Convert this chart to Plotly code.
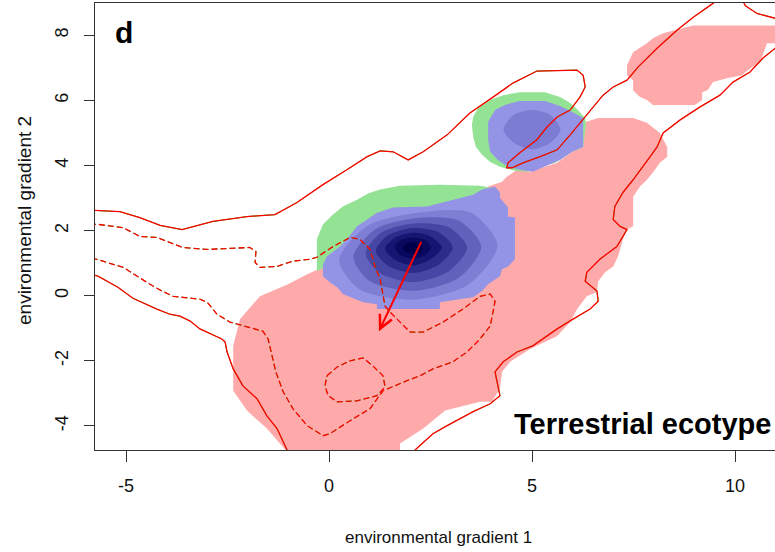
import plotly.graph_objects as go

# ---------------- axes ----------------
x_range = [-5.764, 10.985]
y_range = [-4.74, 8.99]
x_ticks = [-5, 0, 5, 10]
y_ticks = [-4, -2, 0, 2, 4, 6, 8]
x_title = "environmental gradient 1"
y_title = "environmental gradient 2"
panel_label = "d"
ecotype_label = "Terrestrial ecotype"

# ---------------- filled niche regions ----------------
pink_main_x = [-0.15, -0.54, -1.01, -1.70, -2.02, -2.19, -2.36, -2.36, -2.02, -1.53, -0.96,
               1.75, 1.75, 2.32, 2.86, 3.72, 4.01, 4.21, 4.26, 4.46, 4.95, 5.62, 5.94, 6.11,
               6.35, 6.60, 6.63, 6.80, 7.00, 7.12, 7.24, 7.34, 7.49, 7.49, 7.66, 7.83, 7.98,
               8.15, 8.33, 8.33, 8.15, 7.98, 7.83, 7.49, 6.63, 6.26, 6.26, 5.99, 5.62, 4.95,
               4.63, 4.38, 4.26, 3.92, 3.47, 1.75, 0.02]
pink_main_y = [0.87, 0.66, 0.35, -0.02, -0.47, -0.72, -1.54, -2.92, -3.53, -4.08, -4.90,
               -4.90, -4.54, -4.08, -3.53, -3.26, -3.26, -2.86, -2.34, -2.03, -1.64, -1.24,
               -0.81, -0.41, -0.02, 0.11, 0.44, 0.72, 0.90, 1.21, 1.73, 2.03, 2.13, 3.04,
               3.35, 3.56, 3.78, 4.08, 4.27, 4.57, 5.00, 5.18, 5.31, 5.46, 5.46, 5.31, 4.57,
               4.42, 4.08, 3.81, 3.87, 3.65, 3.50, 3.35, 2.80, 1.73, 1.05]

pink_top_x = [8.23, 8.97, 11.20, 11.20, 10.79, 10.62, 10.32, 10.17, 9.80, 9.46, 9.33, 9.19,
              9.19, 9.01, 7.98, 7.83, 7.66, 7.49, 7.49, 7.34, 7.34, 7.49, 7.83, 7.98]
pink_top_y = [8.06, 8.30, 8.30, 7.75, 7.75, 7.18, 6.93, 6.77, 6.68, 6.56, 6.32, 6.25,
              6.01, 5.86, 5.86, 6.01, 6.10, 6.31, 6.62, 6.77, 7.08, 7.48, 7.75, 7.91]

green_big_x = [-0.30, -0.30, -0.15, 0.10, 0.34, 0.69, 0.96, 1.26, 1.75, 2.73, 3.72, 3.97,
               4.14, 3.72, 2.24, 0.52, 0.02]
green_big_y = [0.75, 1.73, 2.19, 2.49, 2.74, 2.95, 3.14, 3.26, 3.38, 3.41, 3.38, 3.32,
               3.17, 2.49, 2.03, 1.42, 0.96]

green_small_x = [3.55, 3.67, 3.97, 4.29, 4.70, 5.32, 5.69, 5.94, 6.13, 6.31, 6.33, 6.26,
                 5.99, 5.81, 5.57, 5.20, 4.90, 4.58, 4.21, 3.97, 3.77, 3.62, 3.55, 3.52]
green_small_y = [5.49, 5.76, 6.01, 6.16, 6.25, 6.25, 6.10, 5.92, 5.70, 5.46, 5.24, 4.57,
                 4.42, 4.27, 4.08, 3.96, 3.81, 3.84, 3.96, 4.11, 4.33, 4.57, 4.88, 5.24]

blue_big_x = [-0.15, -0.15, 0.02, 0.20, 0.34, 0.69, 0.84, 1.18, 1.18, 2.73, 2.73, 3.55,
              3.77, 3.92, 4.09, 4.21, 4.26, 4.41, 4.58, 4.58, 4.41, 4.41, 4.21, 4.21, 4.09,
              3.77, 3.55, 2.91, 2.41, 1.58, 1.18, 0.94, 0.69, 0.44, 0.27, -0.05]
blue_big_y = [0.96, 0.60, 0.41, 0.26, 0.05, -0.11, -0.20, -0.26, -0.41, -0.41, -0.20, -0.05,
              0.14, 0.35, 0.50, 0.60, 0.81, 0.90, 1.12, 2.40, 2.43, 2.71, 3.01, 3.17, 3.35,
              3.26, 3.10, 2.89, 2.74, 2.71, 2.55, 2.34, 2.13, 1.73, 1.51, 1.21]

blue_small_x = [3.92, 4.09, 4.33, 4.70, 5.32, 5.69, 5.99, 6.26, 6.26, 5.99, 5.69, 5.39,
                5.02, 4.70, 4.41, 4.16, 3.97, 3.92]
blue_small_y = [5.34, 5.70, 5.86, 5.98, 5.98, 5.83, 5.64, 5.46, 4.57, 4.42, 4.17, 4.02,
                3.81, 3.87, 3.96, 4.17, 4.42, 4.79]
blue_small_core_x = [4.30, 4.55, 5.00, 5.45, 5.70, 5.45, 5.00, 4.55]
blue_small_core_y = [5.10, 5.55, 5.70, 5.55, 5.10, 4.70, 4.50, 4.70]

# density bands of the stable niche (outer -> inner)
dens1_x = [4.15, 3.50, 2.20, 0.95, 0.25, 0.75, 2.10, 3.45]
dens1_y = [1.55, 2.55, 2.55, 2.15, 1.10, 0.20, -0.12, 0.35]
dens2_x = [3.75, 3.20, 2.15, 1.15, 0.60, 1.00, 2.10, 3.20]
dens2_y = [1.50, 2.30, 2.38, 2.05, 1.20, 0.45, 0.15, 0.55]
dens3_x = [3.40, 2.95, 2.10, 1.30, 0.90, 1.25, 2.10, 2.95]
dens3_y = [1.48, 2.10, 2.22, 1.95, 1.30, 0.70, 0.42, 0.75]
dens4_x = [3.05, 2.70, 2.08, 1.45, 1.15, 1.45, 2.08, 2.70]
dens4_y = [1.48, 1.95, 2.08, 1.85, 1.38, 0.92, 0.70, 0.95]
dens5_x = [2.78, 2.50, 2.07, 1.62, 1.38, 1.62, 2.07, 2.50]
dens5_y = [1.48, 1.82, 1.93, 1.78, 1.45, 1.10, 0.93, 1.12]
dens6_x = [2.52, 2.37, 2.07, 1.76, 1.62, 1.76, 2.07, 2.37]
dens6_y = [1.48, 1.70, 1.78, 1.70, 1.48, 1.24, 1.14, 1.25]
dens7_x = [2.32, 2.24, 2.07, 1.90, 1.82, 1.90, 2.07, 2.24]
dens7_y = [1.48, 1.60, 1.64, 1.60, 1.48, 1.35, 1.30, 1.35]

# ---------------- environment contour lines ----------------
solid_a_x = [-5.80, -5.15, -4.66, -4.16, -3.62, -2.86, -2.02, -1.33, -0.79, -0.15, 0.44, 0.94,
             1.26, 1.58, 1.95, 2.32, 2.91, 3.47, 4.04, 4.53, 5.12, 6.11, 6.26, 6.31, 6.18,
             5.94, 5.62, 5.37, 5.12, 4.70, 4.41, 4.38, 4.51, 4.78, 5.20, 5.62, 5.94, 6.18,
             6.50, 6.75, 7.00, 7.34, 7.61, 8.08, 8.57, 8.97, 9.38, 9.63]
solid_a_y = [2.62, 2.58, 2.40, 2.16, 2.03, 2.28, 2.43, 2.49, 2.86, 3.41, 3.87, 4.27,
             4.45, 4.42, 4.17, 4.42, 4.94, 5.61, 6.10, 6.53, 6.90, 6.93, 6.77, 6.41, 6.10,
             5.70, 5.49, 5.18, 4.79, 4.39, 4.08, 3.93, 3.93, 4.08, 4.27, 4.48, 4.94, 5.31,
             5.80, 6.16, 6.41, 6.62, 7.02, 7.60, 8.15, 8.55, 8.91, 9.13]

solid_top_x = [10.17, 10.25, 10.54, 10.99, 11.35]
solid_top_y = [9.13, 8.91, 8.67, 8.52, 8.49]

solid_right_x = [11.35, 10.99, 10.69, 10.37, 9.95, 9.63, 9.14, 8.65, 8.23, 8.08, 7.91, 7.73,
                 7.49, 7.24, 7.04, 7.00, 7.17, 7.34, 7.09, 6.67, 6.35, 6.31, 6.60, 6.63, 6.43,
                 6.01, 5.62, 5.02, 4.63, 4.29, 4.09, 4.14, 4.21, 3.97, 3.55, 2.91, 2.56, 2.24,
                 2.00]
solid_right_y = [7.72, 7.60, 7.30, 6.87, 6.56, 6.16, 5.80, 5.40, 5.00, 4.57, 4.27, 3.96,
                 3.56, 3.17, 2.74, 2.34, 2.13, 2.03, 1.51, 1.12, 0.72, 0.44, 0.14, -0.17, -0.41,
                 -0.72, -1.02, -1.54, -1.73, -2.03, -2.34, -2.65, -3.07, -3.32, -3.56, -3.99,
                 -4.24, -4.60, -4.88]

solid_left_x = [-5.89, -5.69, -5.20, -4.83, -4.24, -3.92, -3.67, -3.42, -3.18, -2.64, -2.56,
                -2.51, -2.36, -2.12, -1.77, -1.53, -1.28, -1.08, -0.96]
solid_left_y = [0.66, 0.60, 0.26, -0.08, -0.41, -0.57, -0.63, -0.78, -1.02, -1.33, -1.42,
                -1.73, -2.25, -2.77, -3.17, -3.69, -4.08, -4.60, -4.94]

dashed_main_x = [-5.89, -5.69, -5.07, -4.66, -4.24, -3.60, -3.00, -1.95, -1.80, -1.82, -1.70,
                 -1.28, -0.89, -0.47, -0.30, 0.10, 0.52, 0.76, 1.01, 1.13, 1.26, 1.33, 1.38,
                 1.50, 1.75, 2.00, 2.32, 2.81, 3.30, 3.72, 3.97, 4.09, 4.04, 3.97, 3.72, 3.40,
                 3.05, 2.56, 2.24, 1.92, 1.33, 1.01, 0.52, 0.02, -0.15, -0.54, -0.89, -1.13,
                 -1.31, -1.40, -1.50, -1.63, -2.02, -2.44, -2.76, -3.00, -3.18, -3.84, -4.11,
                 -4.41, -5.07, -5.69, -5.89]
dashed_main_y = [2.19, 2.19, 2.09, 1.82, 1.79, 1.48, 1.42, 1.48, 1.36, 1.02, 0.87,
                 0.90, 1.06, 1.12, 1.18, 1.51, 1.79, 1.73, 1.42, 0.90, 0.50, -0.02, -0.32,
                 -0.50, -0.81, -1.12, -1.12, -0.81, -0.41, -0.02, 0.05, -0.17, -0.50, -0.93,
                 -1.33, -1.73, -2.03, -2.25, -2.46, -2.61, -2.92, -3.47, -3.84, -4.24, -4.30,
                 -3.99, -3.47, -2.95, -2.34, -1.85, -1.33, -1.09, -0.96, -0.81, -0.57, -0.20,
                 -0.11, -0.02, 0.14, 0.35, 0.87, 1.12, 1.18]

dashed_loop_x = [-0.05, 0.20, 0.52, 0.84, 1.08, 1.33, 1.38, 1.18, 0.69, 0.20, -0.02, -0.10, -0.05]
dashed_loop_y = [-2.46, -2.19, -2.00, -1.91, -2.16, -2.46, -2.80, -3.07, -3.23, -3.26, -3.07,
                 -2.77, -2.46]

# niche centroid shift arrow
arrow_start = [2.29, 1.70]
arrow_end = [1.23, -1.09]

# ---------------- colours ----------------
PINK = "#ffaaaa"
GREEN = "#94e294"
BLUE_OUT = "#9494e6"
BLUE_SMALL_CORE = "#7c7cd2"
dens_cols = ["#7e7ed4", "#6262bc", "#4646a4", "#2c2c8a", "#161672", "#08085e", "#00004a"]
RED = "#ff0000"
GRN_LINE = "#00cc00"
AXIS = "#333333"

fig = go.Figure()


def poly(xs, ys, color, smooth=False):
    fig.add_trace(go.Scatter(
        x=xs + xs[:1], y=ys + ys[:1], mode="lines", fill="toself", fillcolor=color,
        line=dict(width=0, color=color, shape="spline" if smooth else "linear",
                  smoothing=0.8),
        hoverinfo="skip", showlegend=False))


poly(pink_main_x, pink_main_y, PINK)
poly(pink_top_x, pink_top_y, PINK)
poly(green_big_x, green_big_y, GREEN)
poly(green_small_x, green_small_y, GREEN)
poly(blue_big_x, blue_big_y, BLUE_OUT)
poly(blue_small_x, blue_small_y, BLUE_OUT)
poly(blue_small_core_x, blue_small_core_y, BLUE_SMALL_CORE, smooth=True)
for (dx, dy), c in zip([(dens1_x, dens1_y), (dens2_x, dens2_y), (dens3_x, dens3_y),
                        (dens4_x, dens4_y), (dens5_x, dens5_y), (dens6_x, dens6_y),
                        (dens7_x, dens7_y)], dens_cols):
    poly(dx, dy, c, smooth=True)


def env_line(xs, ys, dash):
    fig.add_trace(go.Scatter(x=xs, y=ys, mode="lines",
                             line=dict(color=GRN_LINE, width=1.0, dash=dash),
                             hoverinfo="skip", showlegend=False))
    fig.add_trace(go.Scatter(x=xs, y=ys, mode="lines",
                             line=dict(color=RED, width=1.3, dash=dash),
                             hoverinfo="skip", showlegend=False))


env_line(solid_a_x, solid_a_y, "solid")
env_line(solid_top_x, solid_top_y, "solid")
env_line(solid_right_x, solid_right_y, "solid")
env_line(solid_left_x, solid_left_y, "solid")
env_line(dashed_main_x, dashed_main_y, "6px,3px")
env_line(dashed_loop_x, dashed_loop_y, "6px,3px")

# ---------------- layout ----------------
L, R, T, B = 95, 0, 3, 102
W, H = 775, 552
pw, ph = W - L - R, H - T - B


def px(xp):
    return (xp - L) / pw


def py(yp):
    return (H - B - yp) / ph


regular = "Liberation Sans, Arial, sans-serif"

fig.update_layout(
    width=W, height=H, margin=dict(l=L, r=R, t=T, b=B),
    paper_bgcolor="white", plot_bgcolor="white",
    xaxis=dict(range=x_range, tickvals=x_ticks, ticktext=[str(v) for v in x_ticks],
               showgrid=False, zeroline=False, showline=True, linecolor=AXIS, linewidth=1,
               mirror=True, ticks="outside", ticklen=11, tickwidth=1, tickcolor=AXIS,
               tickfont=dict(family=regular, size=18, color="#111111"),
               ticklabelstandoff=8),
    yaxis=dict(range=y_range, tickvals=y_ticks, ticktext=[str(v) for v in y_ticks],
               showgrid=False, zeroline=False, showline=True, linecolor=AXIS, linewidth=1,
               ticks="outside", ticklen=10, tickwidth=1, tickcolor=AXIS, tickangle=-90,
               tickfont=dict(family=regular, size=18, color="#111111"),
               ticklabelstandoff=9),
    annotations=[
        dict(text=x_title, xref="paper", yref="paper", x=px(438.5), y=py(537),
             xanchor="center", yanchor="middle", showarrow=False,
             font=dict(family=regular, size=17, color="#111111")),
        dict(text=y_title, xref="paper", yref="paper", x=px(24), y=py(221),
             xanchor="center", yanchor="middle", showarrow=False, textangle=-90,
             font=dict(family=regular, size=19, color="#111111")),
        dict(text="<b>%s</b>" % panel_label, xref="paper", yref="paper", x=px(123.5),
             y=py(32.5), xanchor="center", yanchor="middle", showarrow=False,
             font=dict(family=regular, size=30, color="black")),
        dict(text="<b>%s</b>" % ecotype_label, xref="paper", yref="paper", x=px(773),
             y=py(424), xanchor="right", yanchor="middle", showarrow=False,
             font=dict(family=regular, size=29, color="black")),
        dict(text="", x=arrow_end[0], y=arrow_end[1], ax=arrow_start[0], ay=arrow_start[1],
             xref="x", yref="y", axref="x", ayref="y", showarrow=True, arrowhead=5,
             arrowsize=1.3, arrowwidth=2, arrowcolor=RED),
    ],
)

fig.write_html("out.html")
